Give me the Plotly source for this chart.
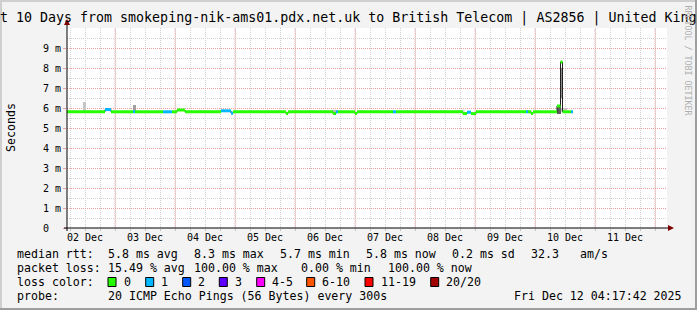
import plotly.graph_objects as go
from datetime import datetime, timedelta

# ---------------- data ----------------
seg_start = [
    "2025-12-02 04:48", "2025-12-02 20:00", "2025-12-02 22:24", "2025-12-03 07:12",
    "2025-12-03 08:00", "2025-12-03 19:12", "2025-12-03 22:48", "2025-12-04 00:48",
    "2025-12-04 04:00", "2025-12-04 18:24", "2025-12-04 22:24", "2025-12-04 23:12",
    "2025-12-05 20:24", "2025-12-05 21:12", "2025-12-06 15:12", "2025-12-06 16:24",
    "2025-12-06 17:12", "2025-12-07 00:00", "2025-12-07 00:48", "2025-12-07 15:12",
    "2025-12-07 16:24", "2025-12-08 19:12", "2025-12-08 20:48", "2025-12-08 22:24",
    "2025-12-09 00:24", "2025-12-09 20:24", "2025-12-09 21:12", "2025-12-09 22:24",
    "2025-12-09 23:12", "2025-12-10 08:48", "2025-12-10 10:12", "2025-12-10 11:00",
    "2025-12-10 14:24",
]
data_end = "2025-12-10 15:12"
seg_median_ms = [
    5.81, 5.92, 5.81, 5.81, 5.81, 5.81, 5.81, 5.90,
    5.81, 5.86, 5.74, 5.81, 5.72, 5.81, 5.72, 5.81,
    5.81, 5.72, 5.81, 5.81, 5.81, 5.72, 5.79, 5.72,
    5.81, 5.81, 5.81, 5.72, 5.81, 6.10, 8.30, 5.81,
    5.81,
]
seg_loss = [
    0, 1, 0, 1, 0, 1, 0, 0,
    0, 1, 1, 0, 0, 0, 0, 1,
    0, 0, 0, 1, 0, 0, 1, 0,
    0, 1, 0, 0, 0, 0, 0, 0,
    1,
]

smoke_start = ["2025-12-02 11:12", "2025-12-02 12:48", "2025-12-02 18:00", "2025-12-02 20:00",
               "2025-12-03 04:00", "2025-12-03 07:12", "2025-12-03 12:00", "2025-12-03 16:48",
               "2025-12-04 05:12", "2025-12-04 09:12", "2025-12-05 05:12", "2025-12-05 12:00",
               "2025-12-05 16:00", "2025-12-06 05:12", "2025-12-06 14:24", "2025-12-07 02:00",
               "2025-12-07 08:00", "2025-12-07 18:00", "2025-12-08 02:00", "2025-12-08 10:00",
               "2025-12-08 16:00", "2025-12-09 08:00", "2025-12-09 16:48", "2025-12-09 20:48",
               "2025-12-10 08:48", "2025-12-10 10:24", "2025-12-10 10:12"]
smoke_end = ["2025-12-02 12:24", "2025-12-02 15:12", "2025-12-02 20:00", "2025-12-02 21:36",
             "2025-12-03 05:12", "2025-12-03 08:24", "2025-12-03 13:12", "2025-12-03 18:48",
             "2025-12-04 06:48", "2025-12-04 12:48", "2025-12-05 06:48", "2025-12-05 13:12",
             "2025-12-05 18:00", "2025-12-06 06:48", "2025-12-06 16:48", "2025-12-07 04:00",
             "2025-12-07 10:00", "2025-12-07 22:00", "2025-12-08 04:00", "2025-12-08 12:00",
             "2025-12-08 20:00", "2025-12-09 14:48", "2025-12-09 18:00", "2025-12-09 22:48",
             "2025-12-10 10:24", "2025-12-10 12:48", "2025-12-10 11:00"]
smoke_lo_ms = [5.8, 5.8, 5.8, 5.85, 5.8, 5.8, 5.8, 5.8, 5.8, 5.8, 5.8, 5.8, 5.8, 5.8,
               5.75, 5.8, 5.8, 5.8, 5.8, 5.8, 5.75, 5.8, 5.8, 5.8, 5.7, 5.8, 6.5]
smoke_hi_ms = [6.3, 5.9, 5.9, 6.0, 5.9, 6.15, 5.9, 5.88, 5.9, 5.9, 5.9, 5.9, 5.9, 5.9,
               5.9, 5.9, 5.9, 5.9, 5.9, 5.9, 5.9, 5.9, 5.9, 5.9, 6.1, 6.0, 8.0]
smoke_density = [0.3, 0.15, 0.15, 0.6, 0.15, 0.5, 0.15, 0.15, 0.15, 0.15, 0.15, 0.15,
                 0.15, 0.15, 0.35, 0.15, 0.15, 0.15, 0.15, 0.15, 0.15, 0.15, 0.15, 0.15,
                 0.85, 0.3, 0.6]

day_ticks = ["2025-12-%02d 12:00" % d for d in range(2, 12)]
day_labels = ["02 Dec", "03 Dec", "04 Dec", "05 Dec", "06 Dec",
              "07 Dec", "08 Dec", "09 Dec", "10 Dec", "11 Dec"]
y_ticks = [0, 1, 2, 3, 4, 5, 6, 7, 8, 9]
y_labels = ["0\u00a0\u00a0", "1 m", "2 m", "3 m", "4 m", "5 m", "6 m", "7 m", "8 m", "9 m"]

loss_labels = ["0", "1", "2", "3", "4-5", "6-10", "11-19", "20/20"]
loss_colors = ["#26ff00", "#00b8ff", "#0059ff", "#5e00ff", "#ff00ff", "#ff5500", "#ff0000", "#a10000"]

rtt_stats = ["median rtt:", "5.8 ms avg", "8.3 ms max", "5.7 ms min", "5.8 ms now",
             "0.2 ms sd", "32.3", "am/s"]
loss_stats = ["packet loss:", "15.49 % avg", "100.00 % max", "0.00 % min", "100.00 % now"]
probe_row = ["probe:", "20 ICMP Echo Pings (56 Bytes) every 300s", "Fri Dec 12 04:17:42 2025"]
loss_row_label = "loss color:"
title_text = ("Last 10 Days from smokeping-nik-ams01.pdx.net.uk to British Telecom"
              " | AS2856 | United Kingdom")
y_title = "Seconds"
watermark = "RRDTOOL / TOBI OETIKER"

# ---------------- layout geometry ----------------
W, H = 697, 310
PL, PR, PT, PB = 67, 667, 28, 228
X0, X1 = "2025-12-02 04:48", "2025-12-12 04:48"
MONO = "DejaVu Sans Mono"


def px(x):
    return (x - PL) / (PR - PL)


def py(y):
    return (PB - y) / (PB - PT)


fig = go.Figure()

# smoke
ss = [datetime.fromisoformat(s) for s in smoke_start]
se = [datetime.fromisoformat(s) for s in smoke_end]


def gray(d):
    g = int(round(255 - d * 190))
    return "rgb(%d,%d,%d)" % (g, g, g)


fig.add_trace(go.Bar(
    x=[a + (b - a) / 2 for a, b in zip(ss, se)],
    y=[h - l for h, l in zip(smoke_hi_ms, smoke_lo_ms)],
    base=smoke_lo_ms,
    width=[(b - a).total_seconds() * 1000 for a, b in zip(ss, se)],
    marker=dict(color=[gray(d) for d in smoke_density], line_width=0),
    hoverinfo="skip", showlegend=False,
))

# median: thin dark line (with steps), then loss-coloured thick segments
ts = [datetime.fromisoformat(s) for s in seg_start] + [datetime.fromisoformat(data_end)]
bx, by = [], []
for i, v in enumerate(seg_median_ms):
    bx += [ts[i], ts[i + 1]]
    by += [v, v]
fig.add_trace(go.Scatter(x=bx, y=by, mode="lines", line=dict(color="#202020", width=1),
                         hoverinfo="skip", showlegend=False))

for c in sorted(set(seg_loss)):
    cx, cy = [], []
    for i, v in enumerate(seg_median_ms):
        if seg_loss[i] == c:
            cx += [ts[i], ts[i + 1], None]
            cy += [v, v, None]
    fig.add_trace(go.Scatter(x=cx, y=cy, mode="lines",
                             line=dict(color=loss_colors[c], width=3),
                             connectgaps=False, hoverinfo="skip", showlegend=False))

shapes = []
# red day grid lines at midnights
d = datetime.fromisoformat("2025-12-03 00:00")
while d < datetime.fromisoformat(X1):
    shapes.append(dict(type="line", xref="x", yref="paper", x0=d, x1=d, y0=0, y1=1,
                       layer="between", line=dict(color="#eba0a0", width=1, dash="1px,1px")))
    d += timedelta(days=1)


def rect(x0, y0, x1, y1, fill, line=None):
    shp = dict(type="rect", xref="paper", yref="paper",
               x0=px(x0), x1=px(x1), y0=py(y1), y1=py(y0), fillcolor=fill, layer="above")
    shp["line"] = line if line else dict(width=0)
    return shp


# frame shading
shapes.append(rect(0, 0, W, 2, "#cfcfcf"))
shapes.append(rect(0, 0, 2, H, "#cfcfcf"))
shapes.append(rect(W - 2, 0, W, H, "#9e9e9e"))
shapes.append(rect(0, H - 2, W, H, "#9e9e9e"))

# axis lines + arrows
shapes.append(dict(type="line", xref="paper", yref="paper", x0=px(64), x1=px(669),
                   y0=py(228), y1=py(228), line=dict(color="#000000", width=1), layer="above"))
shapes.append(dict(type="line", xref="paper", yref="paper", x0=px(67), x1=px(67),
                   y0=py(231), y1=py(24), line=dict(color="#000000", width=1), layer="above"))
shapes.append(dict(type="path", xref="paper", yref="paper",
                   path="M %f %f L %f %f L %f %f Z" % (px(668), py(225), px(674), py(228),
                                                       px(668), py(231)),
                   fillcolor="#7f0000", line=dict(width=0), layer="above"))
shapes.append(dict(type="path", xref="paper", yref="paper",
                   path="M %f %f L %f %f L %f %f Z" % (px(64), py(25), px(67), py(19),
                                                       px(70), py(25)),
                   fillcolor="#7f0000", line=dict(width=0), layer="above"))

annotations = []


def text(x, y, s, size=11.6, anchor="left", color="#000000", angle=0):
    annotations.append(dict(xref="paper", yref="paper", x=px(x), y=py(y), text=s,
                            showarrow=False, xanchor=anchor, yanchor="middle",
                            textangle=angle, borderpad=0,
                            font=dict(family=MONO, size=size, color=color)))


text(348.5, 18, title_text, size=13.3, anchor="center")
text(11, 128, y_title, size=11.6, anchor="center", angle=-90)
text(687.5, 60, watermark, size=8.3, anchor="center", color="#b0b0b0", angle=90)

rtt_x = [16, 107.3, 193.3, 279.3, 365, 451, 530, 579.3]
for xx, s in zip(rtt_x, rtt_stats):
    text(xx, 254.3, s)
loss_x = [16, 107.3, 192.7, 300, 386.7]
for xx, s in zip(loss_x, loss_stats):
    text(xx, 268.3, s)
probe_x = [16, 107.3, 513]
for xx, s in zip(probe_x, probe_row):
    text(xx, 296, s)

text(16, 282.3, loss_row_label)
box_x = [108, 145.7, 182.7, 219.3, 256.7, 306.7, 365, 430.7]
for bxp, lab, col in zip(box_x, loss_labels, loss_colors):
    shapes.append(rect(bxp, 277.5, bxp + 8, 286.5, col, dict(color="#000000", width=1)))
    text(bxp + 14.5, 282.3, lab)

fig.update_layout(
    width=W, height=H, autosize=False,
    margin=dict(l=PL, r=W - PR, t=PT, b=H - PB, pad=0),
    paper_bgcolor="#f3f3f3", plot_bgcolor="#ffffff",
    barmode="overlay", showlegend=False,
    shapes=shapes, annotations=annotations,
    xaxis=dict(type="date", range=[X0, X1], tickmode="array", tickvals=day_ticks,
               ticktext=day_labels, showgrid=False, zeroline=False, showline=False,
               ticks="", ticklabelstandoff=2,
               tickfont=dict(family=MONO, size=10, color="#000000"),
               minor=dict(dtick=6 * 3600 * 1000, tick0="2025-12-02 00:00", showgrid=True,
                          gridcolor="#d0d0d0", griddash="1px,1px", gridwidth=1,
                          ticks="outside", ticklen=2, tickcolor="#c0c0c0")),
    yaxis=dict(range=[0, 10], tickmode="array", tickvals=y_ticks, ticktext=y_labels,
               showgrid=True, gridcolor="#eba0a0", griddash="1px,1px", gridwidth=1,
               zeroline=False, showline=False, ticks="outside", ticklen=3,
               tickcolor="#eba0a0", tickfont=dict(family=MONO, size=10, color="#000000"),
               minor=dict(dtick=0.5, tick0=0, showgrid=True, gridcolor="#d0d0d0",
                          griddash="1px,1px", gridwidth=1)),
)

fig.write_html("out.html")
